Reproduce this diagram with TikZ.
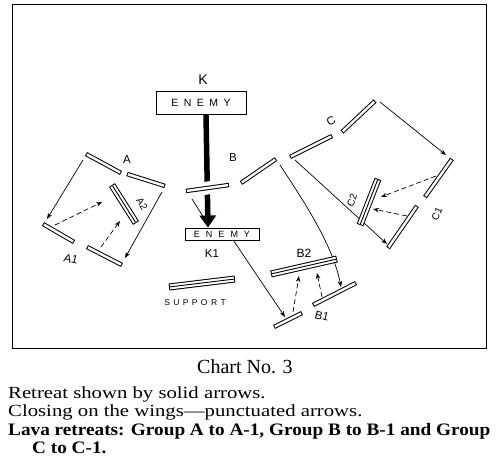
\documentclass[tikz,border=0pt]{standalone}
\usepackage{fontspec}
\setmainfont{Liberation Serif}
\newfontfamily\lab{Liberation Sans}
\newfontfamily\capfont[FakeStretch=1.22]{Liberation Serif}
\newfontfamily\capfontb[FakeStretch=1.1]{Liberation Serif}
\usetikzlibrary{arrows.meta}

\newcommand\sbar[2]{%
  \draw[line width=4.4pt] (#1)--(#2);
  \draw[white,line width=2.4pt,shorten <=1pt,shorten >=1pt] (#1)--(#2);}
\newcommand\dbar[2]{%
  \draw[line width=7pt] (#1)--(#2);
  \draw[white,line width=5pt,shorten <=1pt,shorten >=1pt] (#1)--(#2);
  \draw[line width=0.9pt,shorten <=1pt,shorten >=1pt] (#1)--(#2);}

\begin{document}
\begin{tikzpicture}[x=1pt,y=-1pt,
  lbl/.style={font=\lab\fontsize{11.5}{11.5}\selectfont, inner sep=0pt},
  rlbl/.style={font=\lab\fontsize{10}{10}\selectfont, inner sep=0pt},
  arr/.style={line width=0.7pt, -{Stealth[length=6pt,width=4.5pt]}},
  darr/.style={arr, dash pattern=on 5pt off 3pt},
  ebox/.style={draw, line width=0.9pt, inner sep=0pt},
  captxt/.style={inner sep=0pt, anchor=base west}]

\useasboundingbox (0,0) rectangle (499,460);

% frame
\draw[line width=1pt] (12,5) rectangle (486,348);

% enemy boxes
\node[ebox, minimum width=90pt, minimum height=23pt, font=\lab\fontsize{10.5}{10.5}\selectfont] (K) at (201,102.5)
  {E\hspace{5.5pt}N\hspace{5.5pt}E\hspace{5.5pt}M\hspace{5.5pt}Y};
\node[ebox, minimum width=74pt, minimum height=12pt, font=\lab\fontsize{9}{9}\selectfont] (K1) at (222,234)
  {E\hspace{6pt}N\hspace{6pt}E\hspace{6pt}M\hspace{6pt}Y};

% bar end points
\coordinate (Aa) at (86,154);  \coordinate (Ab) at (121,173);
\coordinate (Ac) at (127,174); \coordinate (Ad) at (165,186);
\coordinate (A2a) at (112,185); \coordinate (A2b) at (136,223);
\coordinate (A1a) at (43,224);  \coordinate (A1b) at (74,242);
\coordinate (A1c) at (87,247);  \coordinate (A1d) at (122,265);
\coordinate (Ba) at (186,191); \coordinate (Bb) at (229,185);
\coordinate (Bc) at (241,183); \coordinate (Bd) at (276,159);
\coordinate (Ca) at (290,157); \coordinate (Cb) at (332,136);
\coordinate (Cc) at (342,132); \coordinate (Cd) at (375,101);
\coordinate (B2a) at (271,274); \coordinate (B2b) at (337,259);
\coordinate (B1a) at (274,327); \coordinate (B1b) at (302,313);
\coordinate (B1c) at (313,305); \coordinate (B1d) at (356,283);
\coordinate (C2a) at (378,179); \coordinate (C2b) at (360,225);
\coordinate (C1a) at (452,159); \coordinate (C1b) at (425,197);
\coordinate (C1c) at (417,206); \coordinate (C1d) at (388,248);
\coordinate (Sa) at (169,287); \coordinate (Sb) at (235,279);

% arrow end points
\coordinate (pA1s) at (83,160);  \coordinate (pA1e) at (47,219);
\coordinate (pA2s) at (162,192); \coordinate (pA2e) at (125,258);
\coordinate (qA1s) at (55,225);  \coordinate (qA1e) at (102,202);
\coordinate (qA2s) at (101,247); \coordinate (qA2e) at (120,221);
\coordinate (pBs) at (192,199);  \coordinate (pBe) at (209,226);
\coordinate (pKe) at (285,317);
\coordinate (pB2s) at (280,165); \coordinate (pB2e) at (341,287);
\coordinate (qB1s) at (293,312); \coordinate (qB1e) at (299,276);
\coordinate (qB2s) at (322,297); \coordinate (qB2e) at (317,273);
\coordinate (pC1s) at (295,160); \coordinate (pC1e) at (387,244);
\coordinate (pC2s) at (380,102); \coordinate (pC2e) at (446,155);
\coordinate (qC1s) at (436,176); \coordinate (qC1e) at (381,197);
\coordinate (qC2s) at (407,216); \coordinate (qC2e) at (373,209);

% thick retreat arrow of the enemy
\draw[line width=5.5pt, -{Triangle[length=12pt,width=16pt]}] ([xshift=5pt]K.south) -- ([xshift=-14pt]K1.north);

% solid arrows
\draw[arr] (pA1s) -- (pA1e);
\draw[arr] (pA2s) -- (pA2e);
\draw[arr] (pBs) -- (pBe);
\coordinate (pKs) at ([xshift=-26pt]K1.south east);
\draw[arr] (pKs) -- (pKe);
\draw[arr] (pB2s) .. controls (303,200) and (333,245) .. (pB2e);
\draw[arr] (pC1s) -- (pC1e);
\draw[arr] (pC2s) -- (pC2e);

% punctuated arrows
\draw[darr] (qA1s) -- (qA1e);
\draw[darr] (qA2s) -- (qA2e);
\draw[darr] (qB1s) -- (qB1e);
\draw[darr] (qB2s) -- (qB2e);
\draw[darr] (qC1s) -- (qC1e);
\draw[darr] (qC2s) -- (qC2e);

% bars
\draw[white,line width=13pt] (Ba)--(Bb);
\sbar{Aa}{Ab} \sbar{Ac}{Ad}
\dbar{A2a}{A2b}
\sbar{A1a}{A1b} \sbar{A1c}{A1d}
\sbar{Ba}{Bb} \sbar{Bc}{Bd}
\sbar{Ca}{Cb} \sbar{Cc}{Cd}
\dbar{B2a}{B2b}
\sbar{B1a}{B1b} \sbar{B1c}{B1d}
\dbar{C2a}{C2b}
\sbar{C1a}{C1b} \sbar{C1c}{C1d}
\dbar{Sa}{Sb}

% labels
\node[lbl, font=\lab\fontsize{14}{14}\selectfont] (lK) at (203,80) {K};
\node[lbl] (lA) at (127,160) {A};
\node[lbl] (lB) at (233,158) {B};
\node[lbl, rotate=30] (lC) at (331,121) {C};
\node[rlbl, rotate=-58] (lA2) at (142,204) {A2};
\node[lbl, rotate=-15] (lA1) at (71,259) {A1};
\node[lbl] (lK1) at (212,254) {K1};
\node[lbl, font=\lab\fontsize{12}{12}\selectfont] (lB2) at (304,253) {B2};
\node[lbl, rotate=-15] (lB1) at (322,316) {B1};
\node[rlbl, rotate=72] (lC2) at (352,200) {C2};
\node[rlbl, rotate=65] (lC1) at (437,214) {C1};
\node[lbl, font=\lab\fontsize{8.5}{8.5}\selectfont] (lS) at (195,303) {S\hspace{3.4pt}U\hspace{3.4pt}P\hspace{3.4pt}P\hspace{3.4pt}O\hspace{3.4pt}R\hspace{3.4pt}T};

% caption
\node[captxt, font=\fontsize{20}{20}\selectfont] (title) at (197,373) {Chart No. 3};
\node[captxt, font=\capfont\fontsize{17}{17}\selectfont] (l1) at (8,398) {Retreat shown by solid arrows.};
\node[captxt, font=\capfont\fontsize{17}{17}\selectfont] (l2) at (8,416) {Closing on the wings—punctuated arrows.};
\node[captxt, font=\capfontb\bfseries\fontsize{17.5}{17.5}\selectfont] (l3) at (8,435) {Lava retreats: Group A to A-1, Group B to B-1 and Group};
\node[captxt, font=\capfontb\bfseries\fontsize{17.5}{17.5}\selectfont] (l4) at (32,453) {C to C-1.};
\end{tikzpicture}
\end{document}
